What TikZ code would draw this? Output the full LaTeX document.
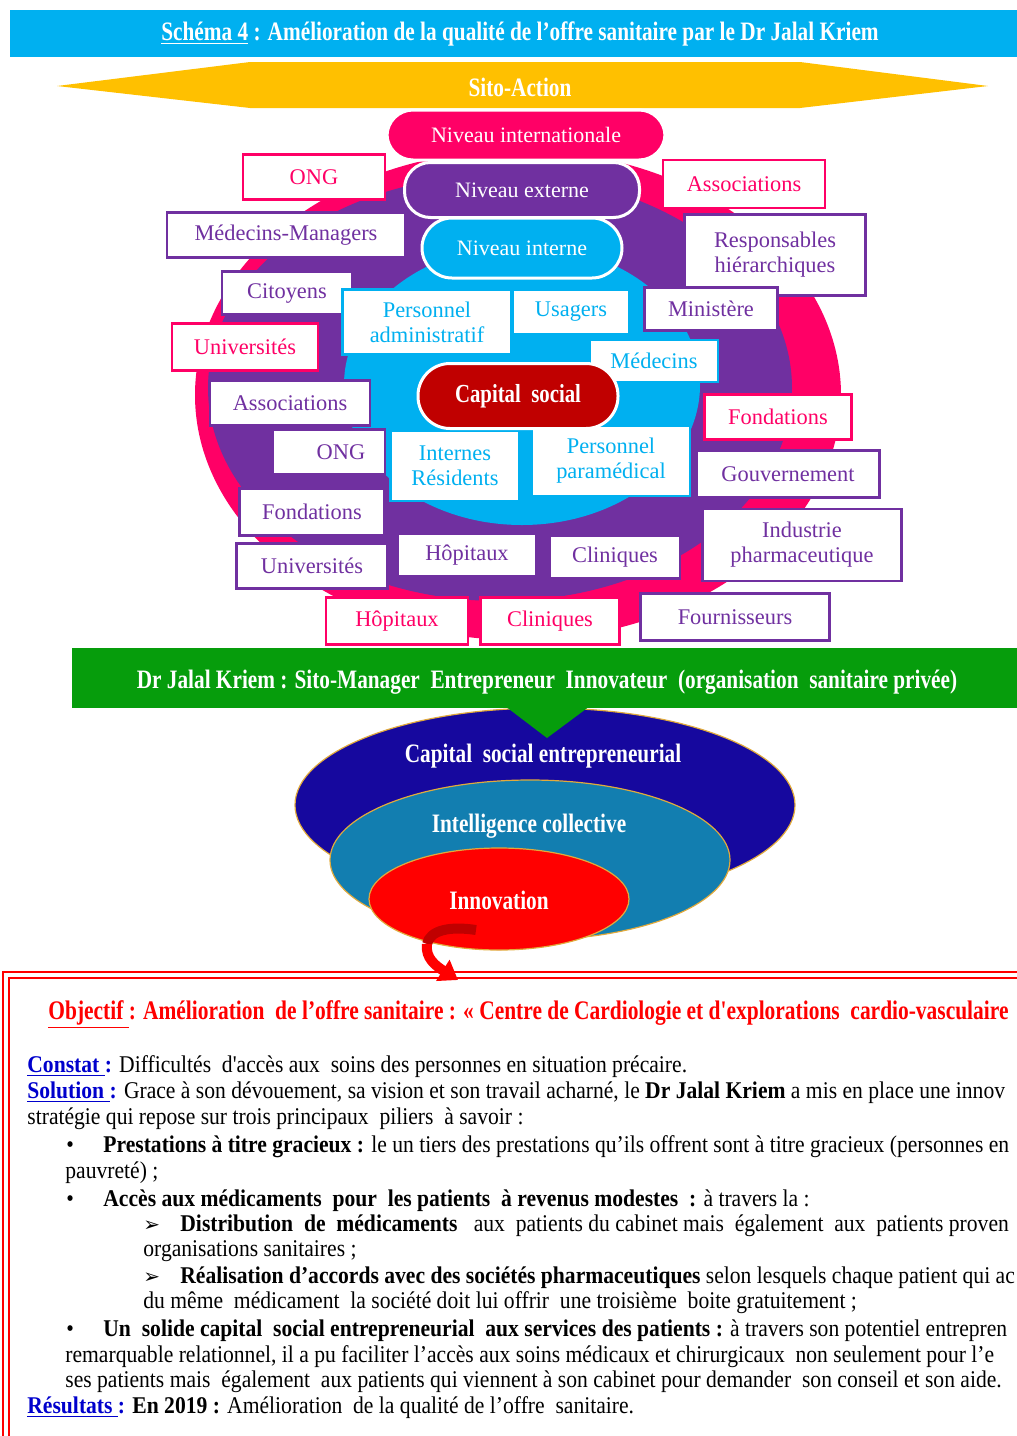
\documentclass[tikz,border=0pt]{standalone}
\usepackage{fontspec}
\setmainfont{Liberation Serif}
\newfontfamily\condfont[FakeStretch=0.8]{Liberation Serif}
\newfontfamily\bodyfont[FakeStretch=0.9]{Liberation Serif}
\newfontfamily\dejafont{DejaVu Sans}
\usetikzlibrary{arrows.meta,shapes.geometric}
\definecolor{headcyan}{HTML}{00B0F0}
\definecolor{sitoyellow}{HTML}{FFC000}
\definecolor{pinkc}{HTML}{FF0066}
\definecolor{purplec}{HTML}{7030A0}
\definecolor{darkredc}{HTML}{C00000}
\definecolor{greenc}{RGB}{6,157,12}
\definecolor{navyc}{RGB}{22,8,158}
\definecolor{tealc}{RGB}{18,126,176}
\definecolor{linkblue}{HTML}{0000CC}
\definecolor{goldc}{RGB}{225,170,60}
\tikzset{
  sbox/.style={draw=#1,text=#1,fill=white,line width=1.4pt,minimum height=22.5pt,inner sep=1pt,align=center,
    font=\fontsize{11.2}{12.5}\selectfont},
  pill/.style={fill=#1,draw=white,line width=1.5pt,rounded corners=13pt,text=white,
    font=\fontsize{11}{12.5}\selectfont},
  ring/.style={ellipse,fill=#1,inner sep=0pt},
  oval/.style={ellipse,fill=#1,draw=goldc,line width=.6pt,inner sep=0pt},
  bigtxt/.style={text=white,inner sep=0pt,font=\condfont\bfseries\fontsize{13.3}{15}\selectfont},
  txtline/.style={anchor=base west,inner sep=0pt,font=\bodyfont\fontsize{12}{13}\selectfont},
}

\begin{document}
\begin{tikzpicture}[x=0.5pt,y=-0.5pt]
	\useasboundingbox (0,0) rectangle (1017,1436);
	\clip (0,0) rectangle (1017,1436);
	% titre
	\fill[headcyan] (10,10) rectangle (1017,57);
	\node[bigtxt] (titre) at (520,34) {\underline{Schéma 4} : Amélioration de la qualité de l’offre sanitaire par le Dr Jalal Kriem};
	\fill[sitoyellow] (57,86) -- (250,62) -- (800,62) -- (988,86) -- (800,108) -- (250,108) -- cycle;
	\node[bigtxt] (sito) at (520,87) {Sito-Action};
	% les trois cercles
	\node[ring=pinkc,minimum width=323pt,minimum height=245pt] (ringext) at (518,395) {};
	\node[ring=purplec,minimum width=292pt,minimum height=213pt] (ringmid) at (500,388) {};
	\node[ring=headcyan,minimum width=178pt,minimum height=140pt] (ringint) at (522,385) {};
	\node[pill=pinkc,minimum width=139pt,minimum height=25pt] (nivinter) at (526,135) {Niveau internationale};
	\node[pill=purplec,minimum width=117.5pt,minimum height=27.5pt] (nivext) at (522,190) {Niveau externe};
	\node[pill=headcyan,minimum width=100pt,minimum height=30pt,rounded corners=15pt] (nivint) at (522,248) {Niveau interne};
	% acteurs
	\node[sbox=pinkc,minimum width=71pt] (ong1) at (314,177) {ONG};
	\node[sbox=purplec,minimum width=119pt] (medman) at (286,235) {Médecins-Managers};
	\node[sbox=pinkc,minimum width=81pt,minimum height=24pt] (assoc1) at (744,184) {Associations};
	\node[sbox=purplec,minimum width=90.5pt,minimum height=40.5pt] (resp) at (775,255) {Responsables\\hiérarchiques};
	\node[sbox=purplec,minimum width=65pt,minimum height=21.5pt] (citoy) at (287,293) {Citoyens};
	\node[sbox=pinkc,minimum width=73pt,minimum height=23.5pt] (univ1) at (245,347) {Universités};
	\node[sbox=headcyan,minimum width=84.5pt,minimum height=32.5pt] (persadm) at (427,322) {Personnel\\administratif};
	\node[sbox=headcyan,minimum width=58.5pt] (usagers) at (571,312) {Usagers};
	\node[sbox=purplec,minimum width=66.5pt,minimum height=21.5pt] (minist) at (711,309) {Ministère};
	\node[sbox=headcyan,minimum width=64pt,minimum height=21pt] (medec) at (654,361) {Médecins};
	\node[sbox=purplec,minimum width=80pt] (assoc2) at (290,403) {Associations};
	\node[sbox=pinkc,minimum width=73.5pt] (fond1) at (778,417) {Fondations};
	\node[sbox=purplec,minimum width=56pt] (ong2) at (329,452) {\hspace*{12pt}ONG};
	\node[sbox=headcyan,minimum width=64.5pt,minimum height=35pt] (internes) at (455,466) {Internes\\Résidents};
	\node[sbox=headcyan,minimum width=79pt,minimum height=35pt] (paramed) at (611,461) {Personnel\\paramédical};
	\node[sbox=purplec,minimum width=91.5pt,minimum height=23.5pt] (gouv) at (788,474) {Gouvernement};
	\node[sbox=purplec,minimum width=72.5pt,minimum height=23.5pt] (fond2) at (312,512) {Fondations};
	\node[sbox=purplec,minimum width=99.5pt,minimum height=36pt] (indus) at (802,545) {Industrie\\pharmaceutique};
	\node[sbox=purplec,minimum width=75.5pt] (univ2) at (312,566) {Universités};
	\node[sbox=purplec,minimum width=69.5pt,minimum height=21pt] (hop1) at (467,555) {Hôpitaux};
	\node[sbox=purplec,minimum width=65pt,minimum height=21.5pt] (clin1) at (615,557) {Cliniques};
	\node[sbox=pinkc,minimum width=71pt,minimum height=23.5pt] (hop2) at (397,621) {Hôpitaux};
	\node[sbox=pinkc,minimum width=69.5pt,minimum height=23.5pt] (clin2) at (550,621) {Cliniques};
	\node[sbox=purplec,minimum width=94.5pt,minimum height=23.5pt] (fourn) at (735,617) {Fournisseurs};
	\node[pill=darkredc,minimum width=100pt,minimum height=32.5pt,rounded corners=16pt,font=\condfont\bfseries\fontsize{13}{15}\selectfont] (capsoc) at (518,396) {Capital\ \ social};
	% ovales
	\node[oval=navyc,minimum width=250pt,minimum height=97pt] (ovcap) at (545,805) {};
	\node[oval=tealc,minimum width=200pt,minimum height=80pt] (ovintel) at (530,860) {};
	\node[oval=red,minimum width=130pt,minimum height=51pt] (ovinno) at (499,899) {};
	\node[bigtxt] (tcap) at (543,756) {Capital\ \ social entrepreneurial};
	\node[bigtxt] (tintel) at (529,826) {Intelligence collective};
	\node[bigtxt] (tinno) at (499,900) {Innovation};
	% bandeau vert
	\fill[greenc] (72,648) rectangle (1017,708);
	\fill[greenc] (505,706) -- (590,706) -- (547,738) -- cycle;
	\node[bigtxt] (sitoman) at (547,682) {Dr Jalal Kriem : Sito-Manager\ \ Entrepreneur\ \ Innovateur\ \ (organisation\ \ sanitaire privée)};
	% cadre du texte
	\draw[red,line width=1pt] (3,972) rectangle (1030,1450);
	\draw[red,line width=1pt] (9,978) rectangle (1030,1450);
	\coordinate (arrtail) at (476,930);
	\coordinate (arrmid) at (427,944);
	\coordinate (arrhead) at (458,980);
	\draw[darkredc,line width=5pt] (arrtail) .. controls (450,926) and (430,930) .. (arrmid);
	\draw[red,line width=5pt,-{Triangle[length=9pt,width=12pt]}] (arrmid) .. controls (425,958) and (436,966) .. (arrhead);
	% texte
	\node[txtline,text=red,font=\condfont\bfseries\fontsize{13.4}{15}\selectfont] (obj) at (48,1019) {\underline{Objectif }: Amélioration\ \ de l’offre sanitaire : « Centre de Cardiologie et d'explorations\ \ cardio-vasculaire};
	\node[txtline] (constat) at (27,1072) {\textcolor{linkblue}{\bfseries\underline{Constat }:} Difficultés\ \ d'accès aux\ \ soins des personnes en situation précaire.};
	\node[txtline] (solution) at (27,1098) {\textcolor{linkblue}{\bfseries\underline{Solution }:} Grace à son dévouement, sa vision et son travail acharné, le \textbf{Dr Jalal Kriem} a mis en place une innov};
	\node[txtline] (strat) at (27,1124) {stratégie qui repose sur trois principaux\ \ piliers\ \ à savoir :};
	\node[txtline] (bul1) at (66,1152) {•};
	\node[txtline] (prest) at (103,1152) {\textbf{Prestations à titre gracieux :} le un tiers des prestations qu’ils offrent sont à titre gracieux (personnes en};
	\node[txtline] (pauv) at (65,1178) {pauvreté) ;};
	\node[txtline] (bul2) at (66,1206) {•};
	\node[txtline] (acces) at (103,1206) {\textbf{Accès aux médicaments\ \ pour\ \ les patients\ \ à revenus modestes\ \ :} à travers la :};
	\node[txtline] (fl1) at (143,1231) {\dejafont\fontsize{10}{12}\selectfont ➢};
	\node[txtline] (distr) at (180,1231) {\textbf{Distribution\ \ de\ \ médicaments}\ \ \ aux\ \ patients du cabinet mais\ \ également\ \ aux\ \ patients proven};
	\node[txtline] (orga) at (143,1256) {organisations sanitaires ;};
	\node[txtline] (fl2) at (143,1283) {\dejafont\fontsize{10}{12}\selectfont ➢};
	\node[txtline] (realis) at (180,1283) {\textbf{Réalisation d’accords avec des sociétés pharmaceutiques} selon lesquels chaque patient qui ac};
	\node[txtline] (meme) at (143,1308) {du même\ \ médicament\ \ la société doit lui offrir\ \ une troisième\ \ boite gratuitement ;};
	\node[txtline] (bul3) at (66,1336) {•};
	\node[txtline] (solide) at (103,1336) {\textbf{Un\ \ solide capital\ \ social entrepreneurial\ \ aux services des patients :} à travers son potentiel entrepren};
	\node[txtline] (remarq) at (65,1362) {remarquable relationnel, il a pu faciliter l’accès aux soins médicaux et chirurgicaux\ \ non seulement pour l’e};
	\node[txtline] (sespat) at (65,1387) {ses patients mais\ \ également\ \ aux patients qui viennent à son cabinet pour demander\ \ son conseil et son aide.};
	\node[txtline] (result) at (27,1413) {\textcolor{linkblue}{\bfseries\underline{Résultats }:} \textbf{En 2019 :} Amélioration\ \ de la qualité de l’offre\ \ sanitaire.};
\end{tikzpicture}
\end{document}
